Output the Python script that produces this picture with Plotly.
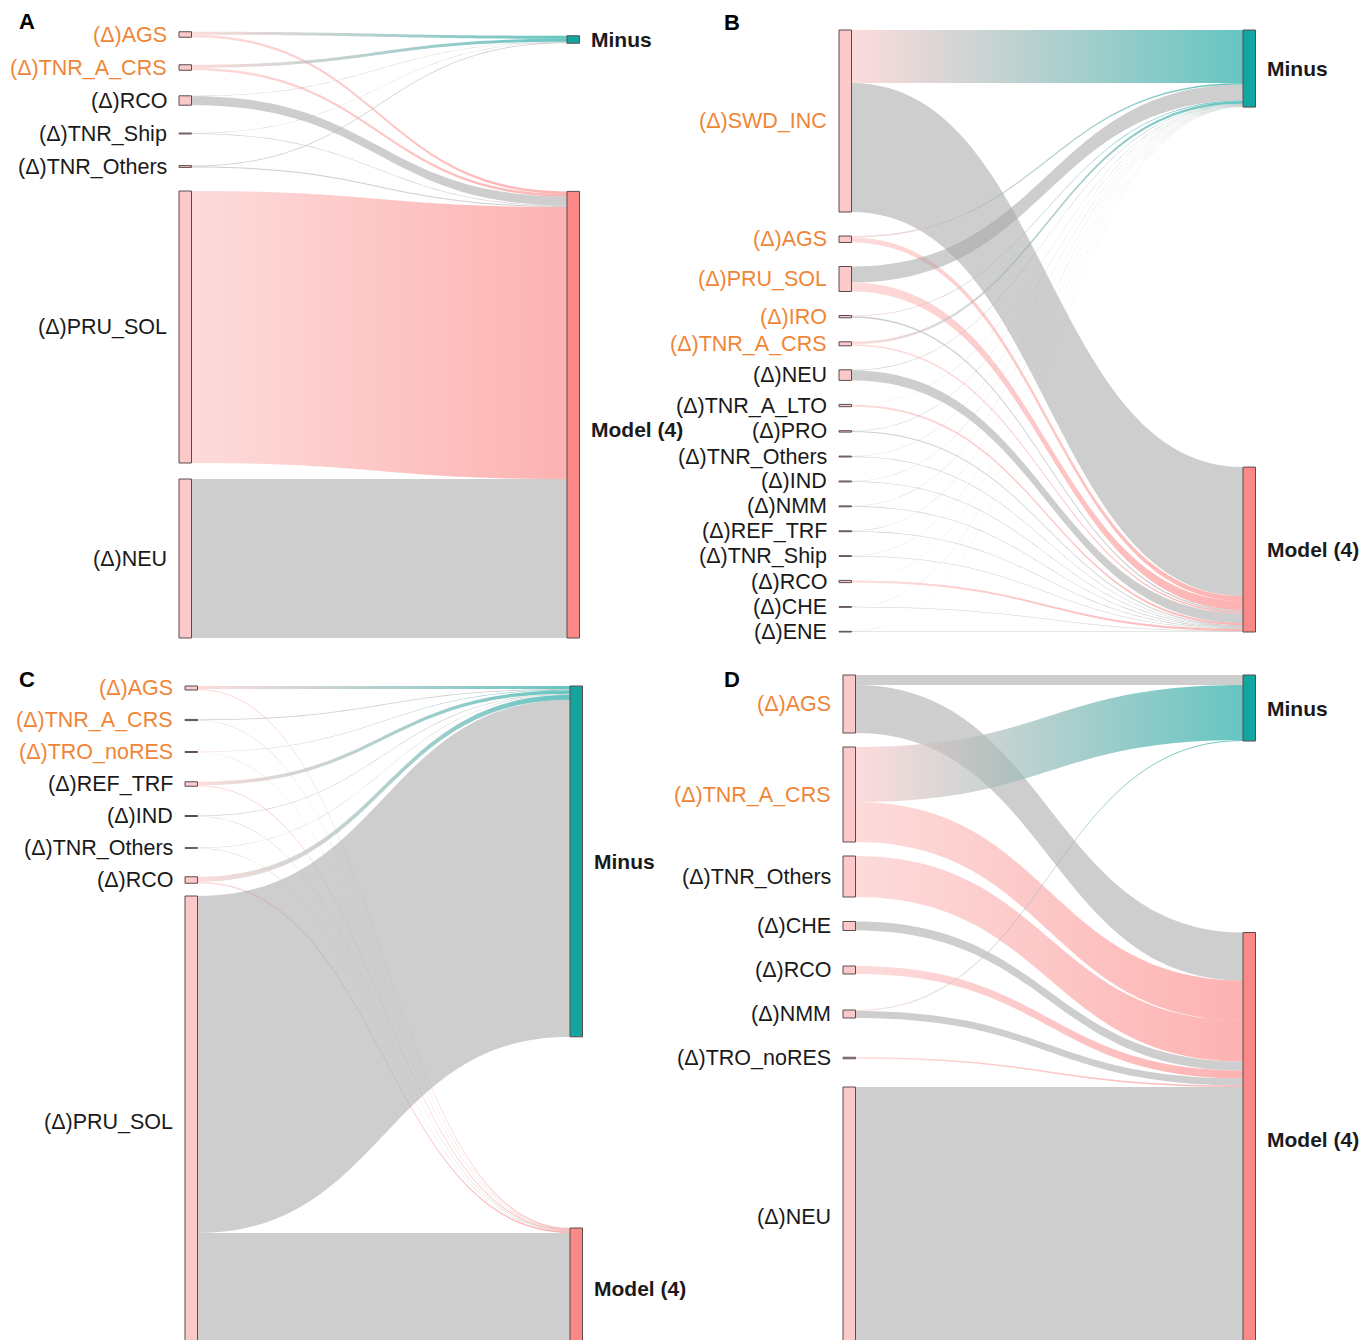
import numpy as np
import plotly.graph_objects as go

# ---------------------------------------------------------------------------
# Data: signed flow from every source category into the two outcome nodes.
# A positive flow is drawn as a pink ribbon, a negative one as a grey ribbon;
# the ribbon thickness is the absolute size of the flow.
# ---------------------------------------------------------------------------
TARGETS = ["Minus", "Model (4)"]

A_SOURCES = ["(Δ)AGS", "(Δ)TNR_A_CRS", "(Δ)RCO", "(Δ)TNR_Ship",
             "(Δ)TNR_Others", "(Δ)PRU_SOL", "(Δ)NEU"]
A_TO_MINUS = [3.0, 3.0, -0.4, -0.3, -0.8, 0.0, 0.0]
A_TO_MODEL = [2.5, 2.5, -9.0, -0.6, -1.0, 272.0, -159.0]
A_HIGHLIGHT = ["(Δ)AGS", "(Δ)TNR_A_CRS"]

B_SOURCES = ["(Δ)SWD_INC", "(Δ)AGS", "(Δ)PRU_SOL", "(Δ)IRO", "(Δ)TNR_A_CRS",
             "(Δ)NEU", "(Δ)TNR_A_LTO", "(Δ)PRO", "(Δ)TNR_Others", "(Δ)IND",
             "(Δ)NMM", "(Δ)REF_TRF", "(Δ)TNR_Ship", "(Δ)RCO", "(Δ)CHE", "(Δ)ENE"]
B_TO_MINUS = [53.0, 1.5, -16.0, 0.8, 2.5, -0.6, 0.3, -0.4, -0.3, -0.3,
              -0.3, -0.3, -0.2, 0.2, -0.2, -0.2]
B_TO_MODEL = [-129.0, 5.0, 9.0, -1.5, 1.5, -10.0, 2.0, -1.0, -0.6, -0.6,
              -0.6, -0.6, -0.5, 2.0, -0.5, -0.5]
B_HIGHLIGHT = ["(Δ)SWD_INC", "(Δ)AGS", "(Δ)PRU_SOL", "(Δ)IRO", "(Δ)TNR_A_CRS"]

C_SOURCES = ["(Δ)AGS", "(Δ)TNR_A_CRS", "(Δ)TRO_noRES", "(Δ)REF_TRF",
             "(Δ)IND", "(Δ)TNR_Others", "(Δ)RCO", "(Δ)PRU_SOL"]
C_TO_MINUS = [3.0, -0.8, 0.5, 3.5, -0.6, -0.4, 5.0, -337.0]
C_TO_MODEL = [1.0, -0.4, 0.4, 1.0, -0.4, -0.3, 1.5, -115.0]
C_HIGHLIGHT = ["(Δ)AGS", "(Δ)TNR_A_CRS", "(Δ)TRO_noRES"]

D_SOURCES = ["(Δ)AGS", "(Δ)TNR_A_CRS", "(Δ)TNR_Others", "(Δ)CHE",
             "(Δ)RCO", "(Δ)NMM", "(Δ)TRO_noRES", "(Δ)NEU"]
D_TO_MINUS = [-10.0, 55.0, 0.0, 0.0, 0.0, 1.0, 0.0, 0.0]
D_TO_MODEL = [-48.0, 40.0, 41.0, -9.0, 8.0, -7.0, 1.5, -259.0]
D_HIGHLIGHT = ["(Δ)AGS", "(Δ)TNR_A_CRS"]

# ---------------------------------------------------------------------------
# Placement of each panel on the page (pixels).  `band` is the vertical room a
# node label needs, `gap` the spacing between consecutive nodes in a column,
# `right_shift` nudges the two target nodes (and labels) of a panel.
# ---------------------------------------------------------------------------
PANEL_LAYOUT = {
    "A": dict(x_left=179, x_right=567, top=26, band=17, gap=16, letter=(17, 21),
              minus_shift=4, model_label_shift=15),
    "B": dict(x_left=839, x_right=1243, top=30, band=0, gap=24, letter=(722, 22),
              minus_shift=0, model_label_shift=0),
    "C": dict(x_left=185, x_right=570, top=672, band=32, gap=0, letter=(17, 679),
              minus_shift=0, model_label_shift=0),
    "D": dict(x_left=843, x_right=1243, top=675, band=30, gap=14, letter=(722, 679),
              minus_shift=0, model_label_shift=0),
}
PANEL_DATA = {
    "A": (A_SOURCES, A_TO_MINUS, A_TO_MODEL, A_HIGHLIGHT),
    "B": (B_SOURCES, B_TO_MINUS, B_TO_MODEL, B_HIGHLIGHT),
    "C": (C_SOURCES, C_TO_MINUS, C_TO_MODEL, C_HIGHLIGHT),
    "D": (D_SOURCES, D_TO_MINUS, D_TO_MODEL, D_HIGHLIGHT),
}

W, H = 1372, 1340
NODE_W = 12.5
PX_PER_UNIT = 1.0

SOURCE_FILL = "#fcc9ca"
TARGET_FILL = {"Minus": "#13a6a0", "Model (4)": "#fb8987"}
NODE_EDGE = "#5b4b4d"
POS_START = "#fcc8c8"
NEG_COLOR = "rgba(165,165,165,0.55)"
LINK_OPACITY = 0.65
ORANGE = "#ef8637"
DARK = "#1a1a1a"
FONT = "Liberation Sans, Arial, sans-serif"

T = np.linspace(0.0, 1.0, 60)


def sigmoid_edge(x0, x1, y0, y1):
    """Cubic Bezier between two node edges, control points half way across."""
    xm = (x0 + x1) / 2.0
    a, b, c, d = (1 - T) ** 3, 3 * (1 - T) ** 2 * T, 3 * (1 - T) * T ** 2, T ** 3
    bx = a * x0 + (b + c) * xm + d * x1
    by = (a + b) * y0 + (c + d) * y1
    return bx, by


def stack_column(heights, top, band, gap):
    """Stack nodes top-down; each node reserves max(height, band) of room."""
    spans = []
    cursor = None
    for h in heights:
        room = max(h, band)
        room_top = top if cursor is None else cursor + gap
        centre = room_top + room / 2.0
        spans.append((centre - h / 2.0, centre + h / 2.0))
        cursor = room_top + room
    return spans


fig = go.Figure()
shapes = []
annotations = []

for letter, (sources, to_minus, to_model, highlight) in PANEL_DATA.items():
    lay = PANEL_LAYOUT[letter]
    flows = [to_minus, to_model]
    heights = [PX_PER_UNIT * (abs(m) + abs(d)) for m, d in zip(to_minus, to_model)]
    left = stack_column(heights, lay["top"], lay["band"], lay["gap"])

    totals = [PX_PER_UNIT * sum(abs(v) for v in f) for f in flows]
    col_top = left[0][0] + lay["minus_shift"]
    col_bottom = left[-1][1]
    right = [(col_top, col_top + totals[0]), (col_bottom - totals[1], col_bottom)]

    xs0 = lay["x_left"] + NODE_W      # ribbons leave the source nodes here
    xs1 = lay["x_right"]              # and reach the target nodes here

    # running offsets inside each node
    src_off = [s[0] for s in left]
    tgt_off = [r[0] for r in right]

    # ribbons: at a source, outgoing links are ordered by target; at a target,
    # incoming links are ordered by source
    seg_src = {}
    for i in range(len(sources)):
        for k in range(2):
            v = PX_PER_UNIT * abs(flows[k][i])
            seg_src[(i, k)] = (src_off[i], src_off[i] + v)
            src_off[i] += v
    seg_tgt = {}
    for k in range(2):
        for i in range(len(sources)):
            v = PX_PER_UNIT * abs(flows[k][i])
            seg_tgt[(i, k)] = (tgt_off[k], tgt_off[k] + v)
            tgt_off[k] += v

    for i in range(len(sources)):
        for k in range(2):
            value = flows[k][i]
            if value == 0:
                continue
            sy0, sy1 = seg_src[(i, k)]
            ty0, ty1 = seg_tgt[(i, k)]
            tx, ty = sigmoid_edge(xs0, xs1, sy0, ty0)
            bx, by = sigmoid_edge(xs0, xs1, sy1, ty1)
            px = np.concatenate([tx, bx[::-1], tx[:1]])
            py = np.concatenate([ty, by[::-1], ty[:1]])
            trace = dict(x=px, y=py, mode="none", fill="toself",
                         hoverinfo="skip", showlegend=False)
            if value > 0:
                trace.update(
                    fillcolor=POS_START,
                    fillgradient=dict(type="horizontal",
                                      colorscale=[[0, POS_START], [1, TARGET_FILL[TARGETS[k]]]],
                                      start=xs0, stop=xs1),
                    opacity=LINK_OPACITY)
            else:
                trace.update(fillcolor=NEG_COLOR)
            fig.add_trace(go.Scatter(**trace))

    # source nodes and their labels
    for name, (y0, y1) in zip(sources, left):
        shapes.append(dict(type="rect", xref="x", yref="y",
                           x0=lay["x_left"], x1=lay["x_left"] + NODE_W, y0=y0, y1=y1,
                           fillcolor=SOURCE_FILL, line=dict(color=NODE_EDGE, width=1)))
        annotations.append(dict(x=lay["x_left"] - 10, y=(y0 + y1) / 2, xref="x", yref="y",
                                text=name, showarrow=False, xanchor="right", yanchor="middle",
                                font=dict(family=FONT, size=21.5,
                                          color=ORANGE if name in highlight else DARK)))

    # target nodes and their labels
    for name, (y0, y1) in zip(TARGETS, right):
        shapes.append(dict(type="rect", xref="x", yref="y",
                           x0=lay["x_right"], x1=lay["x_right"] + NODE_W, y0=y0, y1=y1,
                           fillcolor=TARGET_FILL[name], line=dict(color=NODE_EDGE, width=1)))
        label_y = (y0 + y1) / 2
        if name == "Model (4)":
            label_y += lay["model_label_shift"]
        annotations.append(dict(x=lay["x_right"] + NODE_W + 9, y=label_y,
                                xref="x", yref="y", text="<b>%s</b>" % name,
                                showarrow=False, xanchor="left", yanchor="middle",
                                font=dict(family=FONT, size=21, color=DARK)))

    lx, ly = lay["letter"]
    annotations.append(dict(x=lx, y=ly, xref="x", yref="y", text="<b>%s</b>" % letter,
                            showarrow=False, xanchor="left", yanchor="middle",
                            font=dict(family=FONT, size=22, color="#000000")))

fig.update_layout(
    width=W, height=H,
    margin=dict(l=0, r=0, t=0, b=0),
    paper_bgcolor="white", plot_bgcolor="white",
    xaxis=dict(range=[0, W], visible=False, fixedrange=True),
    yaxis=dict(range=[H, 0], visible=False, fixedrange=True),
    shapes=shapes, annotations=annotations,
    showlegend=False,
)

fig.write_html("out.html")
